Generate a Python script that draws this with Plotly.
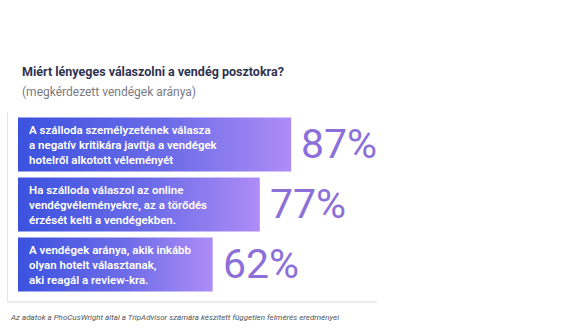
import plotly.graph_objects as go

categories = [
    "A szálloda személyzetének válasza<br>a negatív kritikára javítja a vendégek<br>hotelről alkotott véleményét",
    "Ha szálloda válaszol az online<br>vendégvéleményekre, az a törődés<br>érzését kelti a vendégekben.",
    "A vendégek aránya, akik inkább<br>olyan hotelt választanak,<br>aki reagál a review-kra.",
]
values = [87, 77, 62]
value_labels = ["87%", "77%", "62%"]

title = "<b>Miért lényeges válaszolni a vendég posztokra?</b>"
subtitle = "(megkérdezett vendégek aránya)"
footnote = "Az adatok a PhoCusWright által a TripAdvisor számára készített független felmérés eredményei"

W, H = 580, 331
px_per_unit = 3.14
x0_px = 18
y_px_per_unit = 60
y0_px = 144.5
half_h = 0.45

fig = go.Figure()

for i, (cat, v, lab) in enumerate(zip(categories, values, value_labels)):
    fig.add_trace(go.Scatter(
        x=[0, v, v, 0, 0],
        y=[i - half_h, i - half_h, i + half_h, i + half_h, i - half_h],
        mode="lines",
        line=dict(width=0),
        fill="toself",
        fillgradient=dict(type="horizontal",
                          colorscale=[[0, "#3b52df"], [0.55, "#6d6ce8"], [1, "#ae8cf6"]]),
        hoverinfo="skip",
        showlegend=False,
    ))
    fig.add_annotation(x=0, y=i, xref="x", yref="y", text=cat, showarrow=False,
                       xanchor="left", yanchor="middle", align="left", xshift=9,
                       font=dict(family="Roboto", size=11.5, color="white", weight=600))
    fig.add_annotation(x=v, y=i, xref="x", yref="y", text=lab, showarrow=False,
                       xanchor="left", yanchor="middle", xshift=8, yshift=1,
                       font=dict(family="Roboto", size=41, color="#8c6fd9", weight=400))

fig.add_annotation(x=20 / W, y=1 - 72 / H, xref="paper", yref="paper", text=title,
                   showarrow=False, xanchor="left", yanchor="middle",
                   font=dict(family="Roboto", size=12.5, color="#2f3350"))
fig.add_annotation(x=20 / W, y=1 - 92 / H, xref="paper", yref="paper", text=subtitle,
                   showarrow=False, xanchor="left", yanchor="middle",
                   font=dict(family="Roboto", size=12, color="#7a7a80"))
fig.add_annotation(x=8 / W, y=1 - 317 / H, xref="paper", yref="paper", text=footnote,
                   showarrow=False, xanchor="left", yanchor="middle",
                   font=dict(family="Roboto", size=8, color="#555555", style="italic"))

# faint container border (left and bottom)
fig.add_shape(type="line", xref="paper", yref="paper",
              x0=7.5 / W, x1=7.5 / W, y0=1 - 112 / H, y1=1 - 302 / H,
              line=dict(color="#e6e6e6", width=1))
fig.add_shape(type="line", xref="paper", yref="paper",
              x0=7.5 / W, x1=377 / W, y0=1 - 302 / H, y1=1 - 302 / H,
              line=dict(color="#e6e6e6", width=1.5))

fig.update_layout(
    width=W, height=H,
    margin=dict(l=0, r=0, t=0, b=0),
    paper_bgcolor="white", plot_bgcolor="white",
    xaxis=dict(range=[-x0_px / px_per_unit, (W - x0_px) / px_per_unit],
               visible=False, fixedrange=True),
    yaxis=dict(range=[2 + (H - (y0_px + 2 * y_px_per_unit)) / y_px_per_unit,
                      -y0_px / y_px_per_unit],
               visible=False, fixedrange=True),
)

fig.write_html("out.html")
